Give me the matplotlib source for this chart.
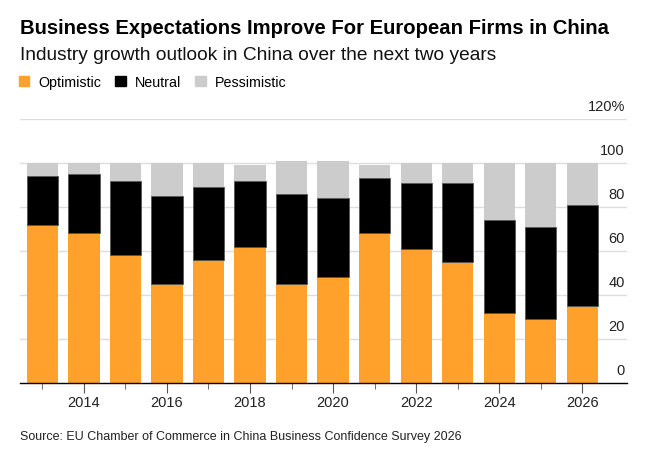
import numpy as np
import matplotlib
matplotlib.use("Agg")
import matplotlib.pyplot as plt
from matplotlib.patches import Patch

# datos
anios = [2013, 2014, 2015, 2016, 2017, 2018, 2019, 2020, 2021, 2022, 2023, 2024, 2025, 2026]
optimista = [72, 68, 58, 45, 56, 62, 45, 48, 68, 61, 55, 32, 29, 35]
neutral = [22, 27, 34, 40, 33, 30, 41, 36, 25, 30, 36, 42, 42, 46]
pesimista = [6, 5, 8, 15, 11, 7, 15, 17, 6, 9, 9, 26, 29, 19]
valores_y = [0, 20, 40, 60, 80, 100, 120]
etiquetas_y = ["0", "20", "40", "60", "80", "100", "120%"]

color_opt = "#FFA12B"
color_neu = "#000000"
color_pes = "#CCCCCC"

plt.rcParams['font.family'] = ['Liberation Sans', 'DejaVu Sans']

fig = plt.figure(figsize=(6.55, 4.6), dpi=100)
ax = fig.add_axes([20 / 655, 1 - 384 / 460, 607 / 655, 264 / 460])

x = np.array(anios)
opt = np.array(optimista)
neu = np.array(neutral)
pes = np.array(pesimista)
ancho = 0.75

ax.bar(x, opt, width=ancho, color=color_opt, zorder=2)
ax.bar(x, neu, width=ancho, bottom=opt, color=color_neu, edgecolor="#555555", linewidth=0.6, zorder=2)
ax.bar(x, pes, width=ancho, bottom=opt + neu, color=color_pes, zorder=2)

ax.set_ylim(0, 120)
ax.set_xlim(2012.46, 2027.08)

# lineas de la cuadricula
for v in valores_y[1:]:
    ax.axhline(v, color="#DDDDDD", linewidth=1, zorder=1)

ax.set_yticks([])
for v, t in zip(valores_y, etiquetas_y):
    ax.text(2027.03, v + 2.6, t, ha="right", va="bottom", fontsize=10.5, color="#222222")

ax.set_xticks(anios, minor=True)
ax.set_xticks([a for a in anios if a % 2 == 0])
ax.set_xticklabels([str(a) for a in anios if a % 2 == 0], fontsize=10.5, color="#222222")
ax.tick_params(axis="x", which="major", length=7, color="#555555", pad=2)
ax.tick_params(axis="x", which="minor", length=4, color="#555555")

for lado in ["top", "right", "left"]:
    ax.spines[lado].set_visible(False)
ax.spines["bottom"].set_color("#000000")
ax.spines["bottom"].set_linewidth(1)
ax.spines["bottom"].set_zorder(3)

# titulos
fig.text(20 / 655, 1 - 29 / 460, "Business Expectations Improve For European Firms in China",
         fontsize=14.6, fontweight="bold", va="center", ha="left")
fig.text(20 / 655, 1 - 56 / 460, "Industry growth outlook in China over the next two years",
         fontsize=13.8, va="center", ha="left", color="#111111")

# leyenda
manejadores = [Patch(color=color_opt, label="Optimistic"),
               Patch(color=color_neu, label="Neutral"),
               Patch(color=color_pes, label="Pessimistic")]
fig.legend(handles=manejadores, loc="center left", bbox_to_anchor=(13 / 655, 1 - 83 / 460),
           ncol=3, frameon=False, fontsize=10.3, handlelength=0.75, handleheight=0.75,
           handletextpad=0.6, columnspacing=1.0, borderaxespad=0)

fig.text(20 / 655, 1 - 437 / 460, "Source: EU Chamber of Commerce in China Business Confidence Survey 2026",
         fontsize=9, va="center", ha="left", color="#222222")

fig.savefig("out.png", dpi=100)
